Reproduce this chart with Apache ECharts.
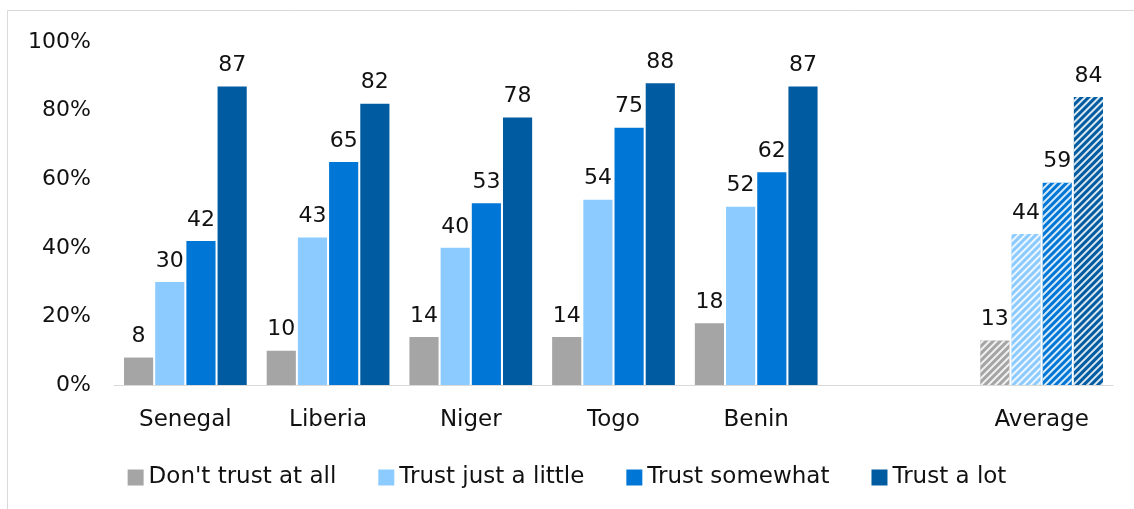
<!DOCTYPE html>
<html><head><meta charset="utf-8">
<script src="https://cdn.jsdelivr.net/npm/echarts@6/dist/echarts.min.js"></script>
<style>html,body{margin:0;padding:0;background:#fff}#c{width:1134px;height:509px}</style>
</head><body><div id="c"></div>
<script>
const categories = ['Senegal', 'Liberia', 'Niger', 'Togo', 'Benin', '', 'Average'];
const seriesNames = ["Don't trust at all", 'Trust just a little', 'Trust somewhat', 'Trust a lot'];
const dontTrust = [8, 10, 14, 14, 18, null, 13];
const trustLittle = [30, 43, 40, 54, 52, null, 44];
const trustSomewhat = [42, 65, 53, 75, 62, null, 59];
const trustLot = [87, 82, 78, 88, 87, null, 84];
const yTicks = [0, 20, 40, 60, 80, 100];

const colors = ['#A5A5A5', '#8CCBFF', '#0077D6', '#005BA1'];
const FONT = '"DejaVu Sans", sans-serif';
const avgIndex = categories.indexOf('Average');

const decal = {
  symbol: 'rect', symbolSize: 1,
  color: 'rgba(255,255,255,0.85)',
  dashArrayX: [1, 0], dashArrayY: [2, 3],
  rotation: -Math.PI / 4
};

function mk(name, vals, i) {
  return {
    name, type: 'bar',
    barGap: '7%', barCategoryGap: '14%',
    itemStyle: { color: colors[i] },
    label: { show: true, position: 'top', distance: 10, color: '#111', fontSize: 22, fontFamily: FONT,
      formatter: p => p.value == null ? '' : p.value },
    data: vals.map((v, k) => k === avgIndex ? { value: v, itemStyle: { decal } } : v)
  };
}

const chart = echarts.init(document.getElementById('c'));
chart.setOption({
  animation: false,
  aria: { enabled: false, decal: { show: false } },
  graphic: [{ type: 'rect', shape: { x: 7.5, y: 10.5, width: 1140, height: 520 }, style: { fill: 'none', stroke: '#d9d9d9', lineWidth: 1 }, silent: true }],
  grid: { left: 114, right: 21, top: 42, bottom: 124 },
  legend: {
    bottom: 15, left: 'center', itemWidth: 16, itemHeight: 16, itemGap: 42,
    icon: 'rect',
    textStyle: { fontSize: 23, fontFamily: FONT, color: '#111' },
    data: seriesNames
  },
  xAxis: {
    type: 'category', data: categories,
    axisLine: { lineStyle: { color: '#d9d9d9', width: 1 } },
    axisTick: { show: false },
    axisLabel: { fontSize: 23, fontFamily: FONT, color: '#111', margin: 24 }
  },
  yAxis: {
    type: 'value', min: yTicks[0], max: yTicks[yTicks.length - 1], interval: 20,
    splitLine: { show: false }, axisLine: { show: false }, axisTick: { show: false },
    axisLabel: { fontSize: 22, fontFamily: FONT, color: '#111', margin: 23, formatter: '{value}%' }
  },
  series: [mk(seriesNames[0], dontTrust, 0), mk(seriesNames[1], trustLittle, 1), mk(seriesNames[2], trustSomewhat, 2), mk(seriesNames[3], trustLot, 3)]
});
</script></body></html>
